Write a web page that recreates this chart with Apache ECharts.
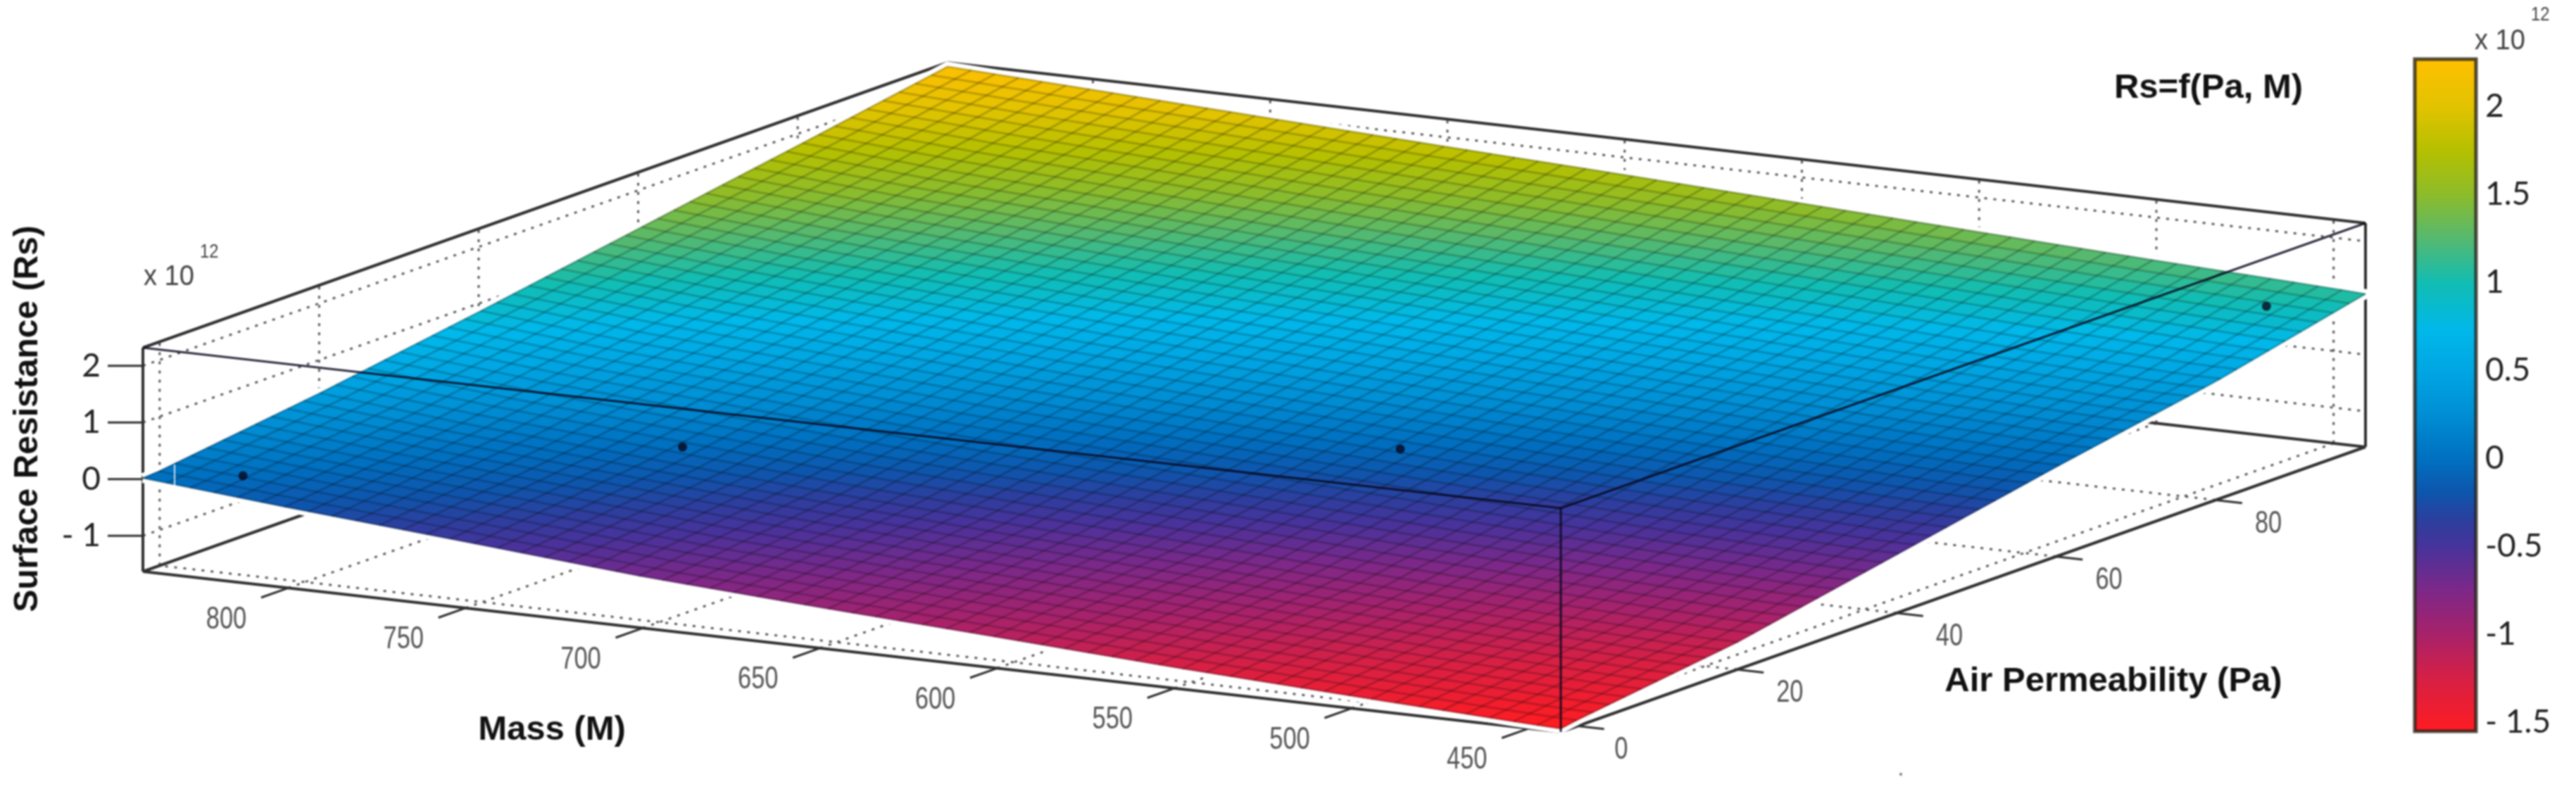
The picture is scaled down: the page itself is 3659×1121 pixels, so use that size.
<!DOCTYPE html>
<html>
<head>
<meta charset="utf-8">
<style>html,body{margin:0;padding:0;background:#fff}#c{width:3659px;height:1121px;filter:blur(0.8px)}</style>
<script src="https://cdn.jsdelivr.net/npm/echarts@6/dist/echarts.min.js"></script>
</head>
<body>
<div id="c"></div>
<script>
// ---- values ----
const massTicks = [800, 750, 700, 650, 600, 550, 500, 450];
const airTicks = [0, 20, 40, 60, 80];
const rsTicks = [2, 1, 0, -1];
const rsTickLabels = ['2', '1', '0', '- 1'];
const massRange = [441, 841];
const airRange = [-2.1, 98.8];
const rsRange = [-1.63, 2.32];

// Surface Rs (x 10^12) read at these Mass (rows) / Air Permeability (columns) positions
const surfaceMass = [841, 800, 750, 700, 650, 600, 550, 500, 450, 441];
const surfaceAir = [-2.1, 0, 20, 40, 60, 80, 98.8];
const rsAtMass841 = [0.02, 0.04, 0.41, 0.85, 1.32, 1.79, 2.25];
const rsAtMass800 = [-0.21, -0.18, 0.16, 0.61, 1.11, 1.59, 2.13];
const rsAtMass750 = [-0.46, -0.43, -0.08, 0.40, 0.91, 1.42, 1.98];
const rsAtMass700 = [-0.72, -0.69, -0.32, 0.18, 0.72, 1.24, 1.83];
const rsAtMass650 = [-0.91, -0.88, -0.51, 0.01, 0.56, 1.08, 1.69];
const rsAtMass600 = [-1.08, -1.05, -0.68, -0.16, 0.39, 0.91, 1.54];
const rsAtMass550 = [-1.26, -1.22, -0.86, -0.33, 0.23, 0.75, 1.39];
const rsAtMass500 = [-1.41, -1.37, -1.02, -0.48, 0.07, 0.59, 1.24];
const rsAtMass450 = [-1.55, -1.51, -1.15, -0.60, -0.05, 0.46, 1.10];
const rsAtMass441 = [-1.57, -1.52, -1.15, -0.60, -0.05, 0.46, 1.07];
const surfaceRs = [rsAtMass841, rsAtMass800, rsAtMass750, rsAtMass700, rsAtMass650,
                   rsAtMass600, rsAtMass550, rsAtMass500, rsAtMass450, rsAtMass441];

// Measured points
const pointMass = [822, 743, 590, 464];
const pointAir = [2, 22, 44, 96.6];
const pointRs = [-0.01, 0.06, 0.01, 0.80];

// Colour bar
const barRange = [-1.55, 2.27];
const barTicks = [2, 1.5, 1, 0.5, 0, -0.5, -1, -1.5];
const barTickLabels = ['2', '1.5', '1', '0.5', '0', '-0.5', '-1', '- 1.5'];
const colorValues = [-1.55, -1.25, -1, -0.75, -0.5, -0.35, -0.2, 0, 0.25, 0.5, 0.73, 1, 1.25, 1.5, 1.75, 2, 2.27];
const colorHexes = ['#ff1c22', '#d62045', '#a8226a', '#7d2888', '#47339b', '#2c3f9e', '#0e55ac', '#0070c0', '#008ed4', '#00a6e3',
                    '#00b8ea', '#12bdb2', '#55b970', '#8dbc2a', '#b5c000', '#e2c300', '#ffc000'];

const titleText = 'Rs=f(Pa, M)';
const massTitle = 'Mass (M)';
const airTitle = 'Air Permeability (Pa)';
const rsTitle = 'Surface Resistance (Rs)';

// ---- oblique projection of the 3D box on the page plane ----
const cornerFront = [2217, 1040], cornerLeft = [203, 812], cornerRight = [3360, 635], boxHeight = 318;
const MIN_M = massRange[0], MAX_M = massRange[1], MIN_A = airRange[0], MAX_A = airRange[1], MIN_R = rsRange[0], MAX_R = rsRange[1];
function project(m, a, r) {
  const fm = (m - MIN_M) / (MAX_M - MIN_M), fa = (a - MIN_A) / (MAX_A - MIN_A), fr = (r - MIN_R) / (MAX_R - MIN_R);
  return [
    cornerFront[0] + fm * (cornerLeft[0] - cornerFront[0]) + fa * (cornerRight[0] - cornerFront[0]),
    cornerFront[1] + fm * (cornerLeft[1] - cornerFront[1]) + fa * (cornerRight[1] - cornerFront[1]) - fr * boxHeight
  ];
}
// Surface height between read positions (interpolated shading, as the plot does)
function rsAt(m, a) {
  let i = 0; while (i < surfaceMass.length - 2 && m < surfaceMass[i + 1]) i++;
  let j = 0; while (j < surfaceAir.length - 2 && a > surfaceAir[j + 1]) j++;
  const u = (surfaceMass[i] - m) / (surfaceMass[i] - surfaceMass[i + 1]);
  const v = (a - surfaceAir[j]) / (surfaceAir[j + 1] - surfaceAir[j]);
  const R = surfaceRs;
  return (1 - u) * (1 - v) * R[i][j] + (1 - u) * v * R[i][j + 1] + u * (1 - v) * R[i + 1][j] + u * v * R[i + 1][j + 1];
}
const rgbStops = colorHexes.map(h => [parseInt(h.slice(1, 3), 16), parseInt(h.slice(3, 5), 16), parseInt(h.slice(5, 7), 16)]);
function colorOf(v) {
  v = Math.max(colorValues[0], Math.min(colorValues[colorValues.length - 1], v));
  let i = 0; while (i < colorValues.length - 2 && v > colorValues[i + 1]) i++;
  const t = (v - colorValues[i]) / (colorValues[i + 1] - colorValues[i]);
  const c = rgbStops[i].map((x, k) => Math.round(x + t * (rgbStops[i + 1][k] - x)));
  return 'rgb(' + c.join(',') + ')';
}

// ---- mesh of the surface plot ----
const MESH_M = 60, MESH_A = 50;
const meshM = i => MAX_M - (MAX_M - MIN_M) * i / MESH_M;
const meshA = j => MIN_A + (MAX_A - MIN_A) * j / MESH_A;
const cells = [];
for (let i = 0; i < MESH_M; i++) for (let j = 0; j < MESH_A; j++) cells.push([meshM(i), meshA(j), meshM(i + 1), meshA(j + 1)]);
const meshLines = [];
for (let i = 0; i <= MESH_M; i++) { const l = []; for (let j = 0; j <= MESH_A; j++) l.push([meshM(i), meshA(j), rsAt(meshM(i), meshA(j))]); meshLines.push(l); }
for (let j = 0; j <= MESH_A; j++) { const l = []; for (let i = 0; i <= MESH_M; i++) l.push([meshM(i), meshA(j), rsAt(meshM(i), meshA(j))]); meshLines.push(l); }
const outline = [];
for (let i = 0; i <= MESH_M; i++) outline.push([meshM(i), MIN_A, rsAt(meshM(i), MIN_A)]);
for (let j = 1; j <= MESH_A; j++) outline.push([MIN_M, meshA(j), rsAt(MIN_M, meshA(j))]);
for (let i = MESH_M - 1; i >= 0; i--) outline.push([meshM(i), MAX_A, rsAt(meshM(i), MAX_A)]);
for (let j = MESH_A - 1; j >= 0; j--) outline.push([MAX_M, meshA(j), rsAt(MAX_M, meshA(j))]);

// ---- box and grid lines ----
const L = (a, b) => [a, b];
const boxBack = [
  L([MAX_M, MIN_A, MAX_R], [MAX_M, MAX_A, MAX_R]), L([MAX_M, MAX_A, MAX_R], [MIN_M, MAX_A, MAX_R]),
  L([MIN_M, MAX_A, MAX_R], [MIN_M, MAX_A, MIN_R]), L([MAX_M, MIN_A, MAX_R], [MAX_M, MIN_A, MIN_R]),
  L([MAX_M, MIN_A, MIN_R], [MIN_M, MIN_A, MIN_R]), L([MIN_M, MIN_A, MIN_R], [MIN_M, MAX_A, MIN_R]),
  L([MAX_M, MIN_A, MIN_R], [MAX_M, MAX_A, MIN_R]), L([MAX_M, MAX_A, MIN_R], [MIN_M, MAX_A, MIN_R])
];
const boxFront = [
  L([MAX_M, MIN_A, MAX_R], [MIN_M, MIN_A, MAX_R]), L([MIN_M, MIN_A, MAX_R], [MIN_M, MAX_A, MAX_R]),
  L([MIN_M, MIN_A, MAX_R], [MIN_M, MIN_A, MIN_R])
];
const dotted = [];
massTicks.forEach(m => { dotted.push(L([m, MIN_A, MIN_R], [m, MAX_A, MIN_R])); dotted.push(L([m, MAX_A, MIN_R], [m, MAX_A, MAX_R])); });
airTicks.forEach(a => { dotted.push(L([MIN_M, a, MIN_R], [MAX_M, a, MIN_R])); dotted.push(L([MAX_M, a, MIN_R], [MAX_M, a, MAX_R])); });
rsTicks.forEach(r => { dotted.push(L([MAX_M, MIN_A, r], [MAX_M, MAX_A, r])); dotted.push(L([MAX_M, MAX_A, r], [MIN_M, MAX_A, r])); });
const axisTicks = [];
massTicks.forEach(m => axisTicks.push(L([m, MIN_A, MIN_R], [m, MIN_A - 3.4, MIN_R])));
airTicks.forEach(a => axisTicks.push(L([MIN_M, a, MIN_R], [MIN_M - 7.5, a, MIN_R])));

const planeCoord = (api, p) => api.coord(project(p[0], p[1], p[2]));
function lineSeries(name, lines, style, z) {
  return {
    type: 'custom', name, xAxisIndex: 0, yAxisIndex: 0, z, silent: true, animation: false,
    data: lines.map((_, i) => [i, 0]),
    renderItem: (params, api) => ({
      type: 'polyline',
      shape: { points: lines[params.dataIndex].map(p => planeCoord(api, p)) },
      style: Object.assign({ fill: null }, style)
    })
  };
}
function labelSeries(name, items, style, z, scaleX) {
  return {
    type: 'custom', name, xAxisIndex: 0, yAxisIndex: 0, z, silent: true, animation: false,
    data: items.map((_, i) => [i, 0]),
    renderItem: (params, api) => {
      const it = items[params.dataIndex], c = planeCoord(api, it.at);
      return { type: 'text', x: c[0] + it.dx, y: c[1] + it.dy, scaleX: scaleX, style: Object.assign({ text: it.text, x: 0, y: 0, verticalAlign: 'middle' }, style) };
    }
  };
}

const DARK = '#303030';
const series = [
  lineSeries('grid lines', dotted, { stroke: '#5a5a5a', lineWidth: 3, lineDash: [4, 9] }, 1),
  lineSeries('box back', boxBack, { stroke: DARK, lineWidth: 4 }, 2),
  lineSeries('axis ticks', axisTicks, { stroke: DARK, lineWidth: 3 }, 2),
  {
    type: 'custom', name: 'rs ticks', xAxisIndex: 0, yAxisIndex: 0, z: 2, silent: true, animation: false,
    data: rsTicks.map(r => [r, 0]),
    renderItem: (params, api) => {
      const c = planeCoord(api, [MAX_M, MIN_A, api.value(0)]);
      return { type: 'line', shape: { x1: c[0] - 50, y1: c[1], x2: c[0], y2: c[1] }, style: { stroke: DARK, lineWidth: 3 } };
    }
  },
  lineSeries('surface halo', [outline.concat([outline[0]])], { stroke: '#ffffff', lineWidth: 14 }, 3),
  {
    type: 'custom', name: 'surface', xAxisIndex: 0, yAxisIndex: 0, z: 4, silent: true, animation: false,
    data: cells,
    renderItem: (params, api) => {
      const m0 = api.value(0), a0 = api.value(1), m1 = api.value(2), a1 = api.value(3);
      const pts = [[m0, a0], [m1, a0], [m1, a1], [m0, a1]].map(q => planeCoord(api, [q[0], q[1], rsAt(q[0], q[1])]));
      const col = colorOf(rsAt((m0 + m1) / 2, (a0 + a1) / 2));
      return { type: 'polygon', shape: { points: pts }, style: { fill: col, stroke: col, lineWidth: 1 } };
    }
  },
  lineSeries('mesh', meshLines, { stroke: 'rgba(0,0,0,0.2)', lineWidth: 3 }, 5),
  lineSeries('box front', boxFront, { stroke: 'rgba(8,8,30,0.85)', lineWidth: 3 }, 6),
  {
    type: 'scatter', name: 'measured', xAxisIndex: 0, yAxisIndex: 0, z: 7, silent: true, animation: false,
    symbol: 'circle', symbolSize: 13, itemStyle: { color: '#07071c' },
    data: pointMass.map((m, i) => project(m, pointAir[i], pointRs[i]))
  },
  labelSeries('mass labels', massTicks.map(m => ({ text: String(m), at: [m, MIN_A, MIN_R], dx: -88, dy: 45 })),
    { font: '44px "Liberation Sans"', fill: '#555', align: 'center' }, 8, 0.78),
  labelSeries('air labels', airTicks.map(a => ({ text: String(a), at: [MIN_M, a, MIN_R], dx: a === 0 ? 62 : 75, dy: 34 })),
    { font: '44px "Liberation Sans"', fill: '#555', align: 'center' }, 8, 0.78),
  labelSeries('rs labels', rsTicks.map((r, i) => ({ text: rsTickLabels[i], at: [MAX_M, MIN_A, r], dx: -60, dy: 0 })),
    { font: '46px Lato', fill: '#222', align: 'right' }, 8, 1),
  {
    type: 'custom', name: 'colour bar', xAxisIndex: 1, yAxisIndex: 1, z: 3, silent: true, animation: false,
    data: [[0, barRange[0], 1, barRange[1]]],
    renderItem: (params, api) => {
      const a = api.coord([api.value(0), api.value(3)]), b = api.coord([api.value(2), api.value(1)]);
      const span = barRange[1] - barRange[0];
      const stops = colorValues.map((v, i) => ({ offset: Math.max(0, Math.min(1, (barRange[1] - v) / span)), color: colorHexes[i] })).reverse();
      const rect = { x: a[0], y: a[1], width: b[0] - a[0], height: b[1] - a[1] };
      return {
        type: 'group', children: [
          { type: 'rect', shape: rect, style: { fill: new echarts.graphic.LinearGradient(0, 0, 0, 1, stops) } },
          { type: 'rect', shape: rect, style: { fill: null, stroke: 'rgba(35,30,20,0.78)', lineWidth: 5 } }
        ]
      };
    }
  }
];

const tickAxis = (extra) => Object.assign({
  type: 'value', gridIndex: 1, min: barRange[0], max: barRange[1], scale: true, splitLine: { show: false },
  axisLine: { show: false }, axisLabel: { show: false }
}, extra);

const smallText = (text, x, y, size, sx) => ({
  type: 'text', z: 20, x, y, scaleX: sx,
  style: { text, x: 0, y: 0, align: 'left', verticalAlign: 'middle', font: size + 'px "Liberation Sans"', fill: '#444' }
});
const boldText = (text, x, y, size, rotation) => ({
  type: 'text', z: 20, x, y, rotation: rotation || 0,
  style: { text, x: 0, y: 0, align: 'center', verticalAlign: 'middle', font: 'bold ' + size + 'px "Liberation Sans"', fill: '#111' }
});

const chart = echarts.init(document.getElementById('c'), null, { renderer: 'canvas' });
chart.setOption({
  backgroundColor: '#ffffff',
  animation: false,
  grid: [
    { left: 0, top: 0, width: 3659, height: 1121, show: false },
    { left: 3430, top: 84, width: 87, height: 955, show: false }
  ],
  xAxis: [
    { type: 'value', gridIndex: 0, min: 0, max: 3659, show: false },
    { type: 'value', gridIndex: 1, min: 0, max: 1, show: false }
  ],
  yAxis: [
    { type: 'value', gridIndex: 0, min: 0, max: 1121, inverse: true, show: false },
    tickAxis({
      position: 'right', offset: 0,
      axisTick: { show: true, customValues: barTicks, length: 18, lineStyle: { color: '#111', width: 4 } },
      axisLabel: {
        show: true, customValues: barTicks, margin: 13, align: 'left', color: '#222',
        fontFamily: 'Lato', fontSize: 46, showMinLabel: true, showMaxLabel: true,
        formatter: v => barTickLabels[barTicks.indexOf(v)]
      }
    }),
    tickAxis({
      position: 'right', offset: 0,
      axisTick: { show: true, inside: true, customValues: barTicks, length: 18, lineStyle: { color: 'rgba(30,20,0,0.75)', width: 4 } }
    }),
    tickAxis({
      position: 'left', offset: 0,
      axisTick: { show: true, inside: true, customValues: barTicks, length: 18, lineStyle: { color: 'rgba(30,20,0,0.75)', width: 4 } }
    })
  ],
  series,
  graphic: { elements: [
    boldText(titleText, 3137, 125, 49),
    boldText(massTitle, 784, 1037, 49),
    boldText(airTitle, 3002, 968, 49),
    boldText(rsTitle, 40, 595, 48, Math.PI / 2),
    smallText('x 10', 204, 394, 40, 0.95),
    smallText('12', 284, 358, 28, 0.85),
    smallText('x 10', 3515, 59, 40, 0.95),
    smallText('12', 3595, 21, 28, 0.85),
    { type: 'line', z: 20, shape: { x1: 248, y1: 660, x2: 248, y2: 692 }, style: { stroke: 'rgba(255,255,255,0.8)', lineWidth: 2 } },
    { type: 'circle', z: 20, shape: { cx: 2700, cy: 1100, r: 2 }, style: { fill: '#777' } }
  ] }
});
</script>
</body>
</html>
